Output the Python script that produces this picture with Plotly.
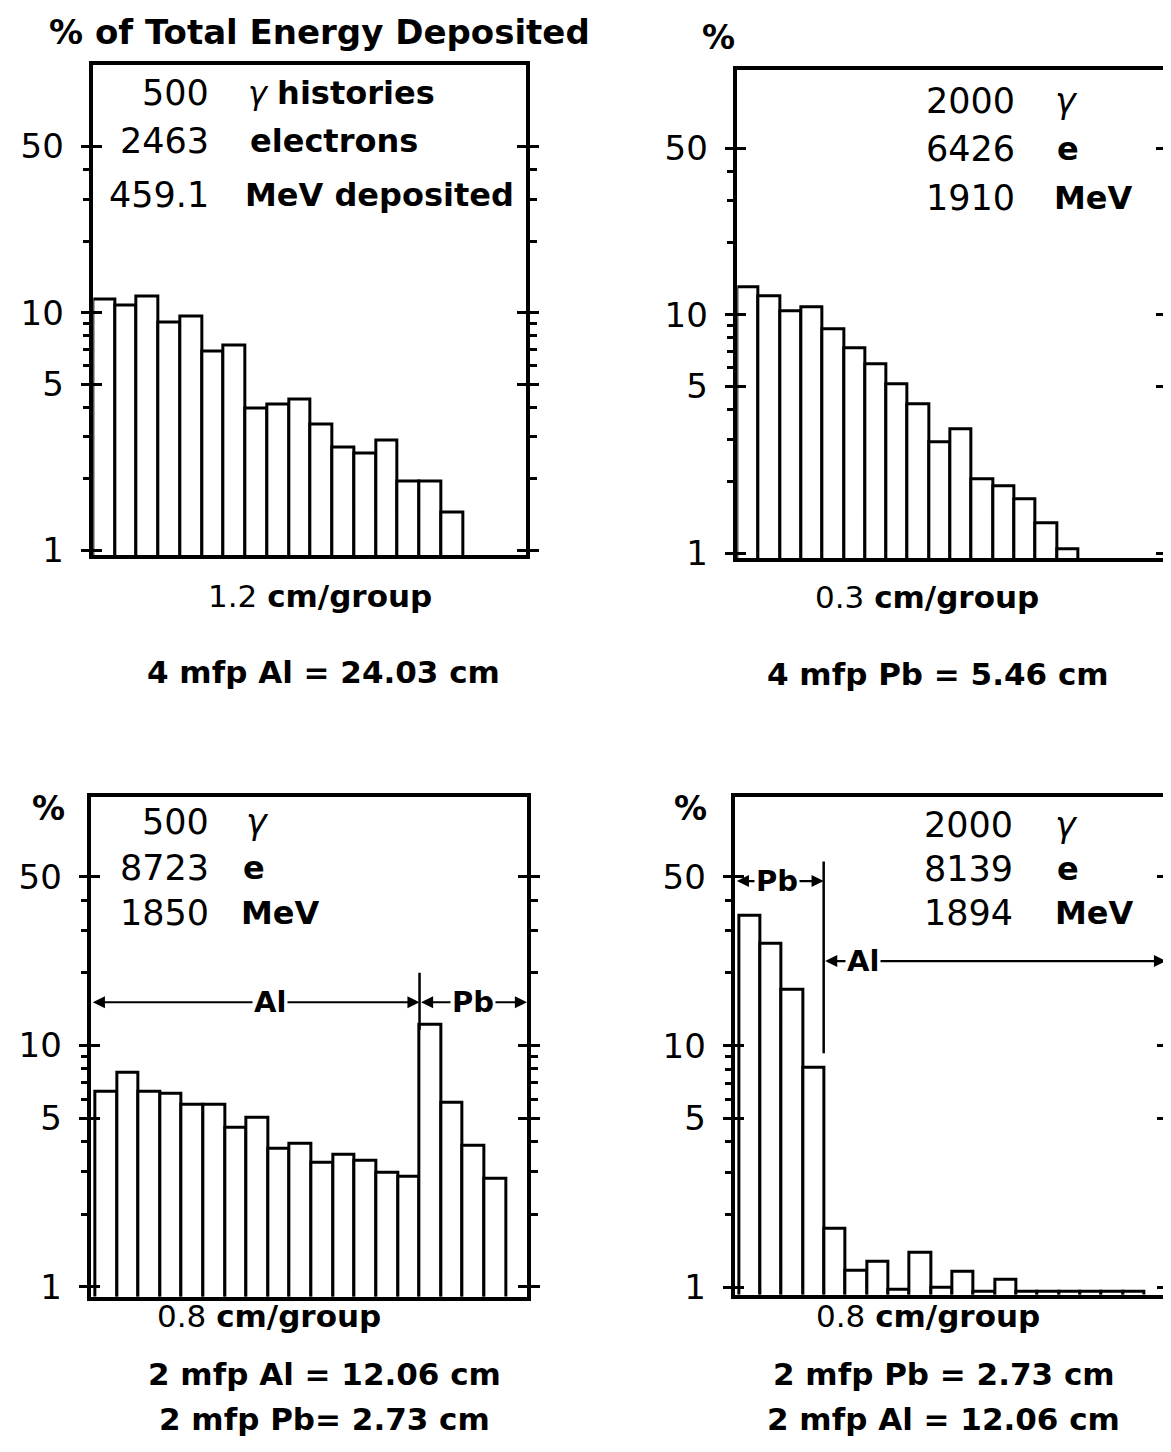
import math
import plotly.graph_objects as go

W, H = 1171, 1452

# ---------------- data ----------------
groups_p1 = list(range(1, 18))
pct_p1 = [11.4, 10.7, 11.7, 9.1, 9.6, 6.9, 7.3, 3.96, 4.1, 4.3, 3.4, 2.7, 2.55, 2.9, 1.94, 1.94, 1.45]

groups_p2 = list(range(1, 17))
pct_p2 = [13.0, 12.0, 10.3, 10.7, 8.7, 7.2, 6.2, 5.1, 4.2, 2.93, 3.3, 2.05, 1.90, 1.69, 1.33, 1.04]

groups_p3 = list(range(1, 20))
pct_p3 = [6.4, 7.7, 6.4, 6.3, 5.7, 5.7, 4.56, 5.0, 3.72, 3.9, 3.27, 3.54, 3.33, 2.96, 2.86,
          12.2, 5.8, 3.85, 2.81]

groups_p4 = list(range(1, 20))
pct_p4 = [34.4, 26.5, 17.1, 8.1, 1.74, 1.17, 1.28, 0.98, 1.39, 1.0, 1.16, 0.96, 1.07,
          0.96, 0.96, 0.96, 0.96, 0.96, 0.96]

major_vals = [1, 5, 10, 50]
major_text = ["1", "5", "10", "50"]
minor_vals = [2, 3, 4, 6, 7, 8, 9, 20, 30, 40]

# material boundaries (group index) and marker heights (percent)
p3_boundary = 15.5
p3_arrow_y = 15.1
p3_div_y = [11.6, 20.0]
p3_al_label_x, p3_pb_label_x = 8.6, 17.95

p4_boundary = 4.47
p4_pb_arrow_y = 48.0
p4_al_arrow_y = 22.4
p4_div_y = [9.3, 57.8]
p4_pb_label_x, p4_al_label_x = 2.28, 6.33

# ---------------- layout geometry (pixels) ----------------
frames = {1: (86, 522, 58, 553), 2: (735, 1166, 63, 556),
          3: (84, 523, 797, 1302), 4: (733, 1167, 797, 1300)}
xranges = {1: [0.5, 20.4], 2: [0.5, 20.57], 3: [0.32, 20.47], 4: [0.33, 20.52]}
yranges = {1: [-0.021, 2.04], 2: [-0.021, 2.025], 3: [-0.04, 2.03], 4: [-0.03, 2.03]}

FONT = "DejaVu Sans"
DY = -6  # text vertical correction


def px(x):
    return x / W


def py(y):
    return 1 - y / H


fig = go.Figure()

series = {1: (groups_p1, pct_p1), 2: (groups_p2, pct_p2),
          3: (groups_p3, pct_p3), 4: (groups_p4, pct_p4)}

for i, (g, v) in series.items():
    fig.add_trace(go.Bar(x=g, y=v, width=1,
                         marker=dict(color="white", line=dict(color="black", width=3)),
                         xaxis=f"x{i}", yaxis=f"y{i}", showlegend=False,
                         hoverinfo="skip"))
    # dummy trace for overlay axis carrying inward major ticks
    fig.add_trace(go.Scatter(x=[None], y=[None], xaxis=f"x{i}", yaxis=f"y{i+4}",
                             showlegend=False, hoverinfo="skip"))

# divider lines
fig.add_trace(go.Scatter(x=[p3_boundary, p3_boundary], y=p3_div_y, mode="lines",
                         line=dict(color="black", width=2.5), xaxis="x3", yaxis="y3",
                         showlegend=False, hoverinfo="skip"))
fig.add_trace(go.Scatter(x=[p4_boundary, p4_boundary], y=p4_div_y, mode="lines",
                         line=dict(color="black", width=2.5), xaxis="x4", yaxis="y4",
                         showlegend=False, hoverinfo="skip"))

layout = dict(width=W, height=H, margin=dict(l=0, r=0, t=0, b=0),
              paper_bgcolor="white", plot_bgcolor="white", bargap=0,
              font=dict(family=FONT, color="black"))

for i in range(1, 5):
    x0, x1, y0, y1 = frames[i]
    layout[f"xaxis{i}"] = dict(domain=[px(x0), px(x1)], anchor=f"y{i}", range=xranges[i],
                               showline=True, linewidth=3.5, linecolor="black", mirror=True,
                               ticks="", showticklabels=False, showgrid=False, zeroline=False)
    layout[f"yaxis{i}"] = dict(domain=[py(y1), py(y0)], anchor=f"x{i}", type="log",
                               range=yranges[i], showline=True, linewidth=3.5,
                               linecolor="black", mirror="ticks", showgrid=False,
                               zeroline=False, ticks="outside", ticklen=9, tickwidth=3,
                               tickcolor="black", tickvals=major_vals, ticktext=major_text,
                               tickfont=dict(size=34, family=FONT), ticklabelstandoff=10,
                               minor=dict(tickvals=minor_vals, ticks="outside", ticklen=7,
                                          tickwidth=2.5, tickcolor="black", showgrid=False))
    layout[f"yaxis{i+4}"] = dict(overlaying=f"y{i}", anchor=f"x{i}", side="left", type="log",
                                 range=yranges[i], showline=True, linewidth=3.5,
                                 linecolor="black", mirror="ticks", showgrid=False,
                                 zeroline=False, ticks="inside", ticklen=9, tickwidth=3,
                                 tickcolor="black", tickvals=major_vals,
                                 showticklabels=False)

fig.update_layout(**layout)

ann = []


def text(x, y, t, size=32, anchor="center"):
    ann.append(dict(x=px(x), y=py(y + DY), xref="paper", yref="paper", text=t, showarrow=False,
                    xanchor=anchor, yanchor="middle", font=dict(size=size, family=FONT)))


# titles / % labels
text(314, 30, "<b>% of Total Energy Deposited</b>", 34)
text(716, 36, "<b>%</b>", 33)
text(41, 815, "<b>%</b>", 33)
text(688, 815, "<b>%</b>", 33)

NUM, WRD = 35, 32

# panel 1 legend block
text(205, 92, "500", NUM, "right")
text(240, 92, "<i>γ</i> <b>histories</b>", WRD, "left")
text(205, 140, "2463", NUM, "right")
text(242, 140, "<b>electrons</b>", WRD, "left")
text(205, 195, "459.1", NUM, "right")
text(237, 195, "<b>MeV deposited</b>", WRD, "left")

# panel 2
text(1017, 100, "2000", NUM, "right")
text(1053, 100, "<i>γ</i>", NUM, "left")
text(1017, 148, "6426", NUM, "right")
text(1055, 148, "<b>e</b>", WRD, "left")
text(1017, 198, "1910", NUM, "right")
text(1052, 198, "<b>MeV</b>", WRD, "left")

# panel 3
text(205, 828, "500", NUM, "right")
text(238, 828, "<i>γ</i>", NUM, "left")
text(205, 875, "8723", NUM, "right")
text(235, 875, "<b>e</b>", WRD, "left")
text(205, 920, "1850", NUM, "right")
text(233, 920, "<b>MeV</b>", WRD, "left")

# panel 4
text(1015, 832, "2000", NUM, "right")
text(1053, 832, "<i>γ</i>", NUM, "left")
text(1015, 876, "8139", NUM, "right")
text(1055, 876, "<b>e</b>", WRD, "left")
text(1015, 920, "1894", NUM, "right")
text(1053, 920, "<b>MeV</b>", WRD, "left")

# captions
CAP = 31
text(314, 600, "1.2 <b>cm/group</b>", CAP)
text(318, 677, "<b>4 mfp Al = 24.03 cm</b>", CAP)
text(926, 601, "0.3 <b>cm/group</b>", CAP)
text(937, 679, "<b>4 mfp Pb = 5.46 cm</b>", CAP)
text(263, 1328, "0.8 <b>cm/group</b>", CAP)
text(319, 1386, "<b>2 mfp Al = 12.06 cm</b>", CAP)
text(319, 1432, "<b>2 mfp Pb= 2.73 cm</b>", CAP)
text(927, 1328, "0.8 <b>cm/group</b>", CAP)
text(943, 1386, "<b>2 mfp Pb = 2.73 cm</b>", CAP)
text(943, 1432, "<b>2 mfp Al = 12.06 cm</b>", CAP)


def arrow(i, xa, xb, yv):
    ly = math.log10(yv)
    ann.append(dict(x=xb, y=ly, ax=xa, ay=ly, xref=f"x{i}", yref=f"y{i}",
                    axref=f"x{i}", ayref=f"y{i}", text="", showarrow=True,
                    arrowhead=2, arrowside="end+start", arrowsize=1.1, arrowwidth=2.2,
                    arrowcolor="black", standoff=0, startstandoff=0))


def label(i, xv, yv, t):
    ann.append(dict(x=xv, y=math.log10(yv), xref=f"x{i}", yref=f"y{i}", text=f"<b>{t}</b>",
                    showarrow=False, bgcolor="white", borderpad=1,
                    font=dict(size=29, family=FONT)))


arrow(3, xranges[3][0], p3_boundary, p3_arrow_y)
arrow(3, p3_boundary, xranges[3][1], p3_arrow_y)
label(3, p3_al_label_x, p3_arrow_y, "Al")
label(3, p3_pb_label_x, p3_arrow_y, "Pb")

arrow(4, xranges[4][0], p4_boundary, p4_pb_arrow_y)
arrow(4, p4_boundary, xranges[4][1], p4_al_arrow_y)
label(4, p4_pb_label_x, p4_pb_arrow_y, "Pb")
label(4, p4_al_label_x, p4_al_arrow_y, "Al")

fig.update_layout(annotations=ann)
fig.write_html("out.html")
